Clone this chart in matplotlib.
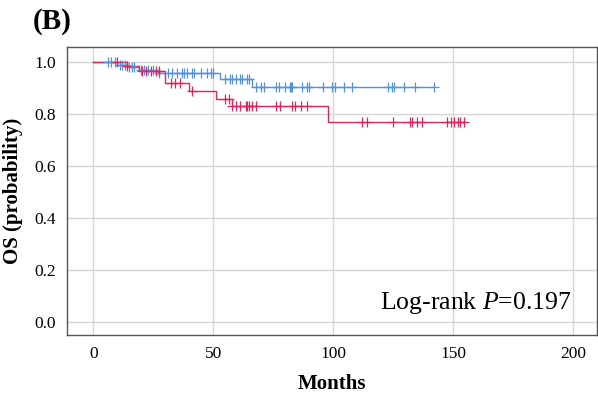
import matplotlib
matplotlib.use("Agg")
import matplotlib.pyplot as plt
import numpy as np

# Groupe bleu : temps des chutes et niveaux de survie
blue_step_t = [0, 10, 14, 19, 27, 53, 66]
blue_step_s = [1.0, 0.99, 0.98, 0.97, 0.96, 0.935, 0.905]
blue_end = 142
blue_censor = [6, 7.5, 9, 11, 12, 13, 15, 16, 17, 20, 21, 23, 25, 27.5,
               31, 33, 35, 37, 38, 39, 41, 42, 45, 47.5, 49, 50,
               55, 57, 58, 59.5, 61, 62, 64, 65,
               68, 70, 71, 76, 77.5, 80, 82, 82.5, 83, 87, 89, 90,
               96, 99.5, 101, 104.5, 108, 123, 124.5, 125.5, 129.5, 134, 142]

# Groupe rouge
red_step_t = [0, 14, 19, 30, 40, 51, 58, 98]
red_step_s = [1.0, 0.985, 0.965, 0.92, 0.89, 0.86, 0.83, 0.77]
red_end = 155
red_censor = [10, 14, 20.5, 22, 24, 26, 27.5, 32.5, 34, 36, 41,
              55, 56.5, 58, 59.5, 61, 63.5, 64, 65, 66, 68, 76, 78,
              83, 84, 86.5, 89, 112, 114, 125, 132, 133, 135, 137,
              147.5, 149, 150.5, 152, 153, 154.5]

BLUE = "#5592dc"
RED = "#e0245e"

plt.rcParams["font.family"] = ["Liberation Serif", "DejaVu Serif"]
plt.rcParams["mathtext.fontset"] = "custom"
plt.rcParams["mathtext.rm"] = "Liberation Serif"
plt.rcParams["mathtext.it"] = "Liberation Serif:italic"

fig = plt.figure(figsize=(5.98, 3.93), dpi=100)
ax = fig.add_axes([0.112, 0.148, 0.886, 0.732])


def surv_at(t, step_t, step_s):
    idx = np.searchsorted(step_t, t, side="right") - 1
    return np.array(step_s)[idx]


def draw_group(step_t, step_s, end, censor, color):
    xs = list(step_t) + [end]
    ys = list(step_s) + [step_s[-1]]
    ax.step(xs, ys, where="post", color=color, lw=1.0, zorder=3)
    cs = surv_at(np.array(censor), step_t, step_s)
    ax.plot(censor, cs, linestyle="none", marker="+", markersize=7,
            markeredgewidth=0.9, color=color, zorder=4)


draw_group(blue_step_t, blue_step_s, blue_end, blue_censor, BLUE)
draw_group(red_step_t, red_step_s, red_end, red_censor, RED)

ax.set_xlim(-11, 210)
ax.set_ylim(-0.05, 1.058)
ax.set_xticks([0, 50, 100, 150, 200])
ax.set_yticks([0.0, 0.2, 0.4, 0.6, 0.8, 1.0])
ax.set_yticklabels(["0.0", "0.2", "0.4", "0.6", "0.8", "1.0"])
ax.tick_params(length=0, labelsize=12.5, pad=8)
ax.grid(True, color="#d6d6d6", lw=1.0, zorder=0)
ax.set_axisbelow(True)
for sp in ax.spines.values():
    sp.set_color("#555555")
    sp.set_linewidth(1.0)

ax.set_xlabel("Months", fontsize=15, fontweight="bold", labelpad=9)
ax.set_ylabel("OS (probability)", fontsize=15, fontweight="bold", labelpad=8)

ax.text(0.952, 0.11, "Log-rank $\\mathit{P}$=0.197", transform=ax.transAxes,
        ha="right", va="center", fontsize=18.5)
fig.text(0.087, 0.945, "(B)", ha="center", va="center",
         fontsize=21, fontweight="bold")

fig.savefig("out.png", dpi=100)
